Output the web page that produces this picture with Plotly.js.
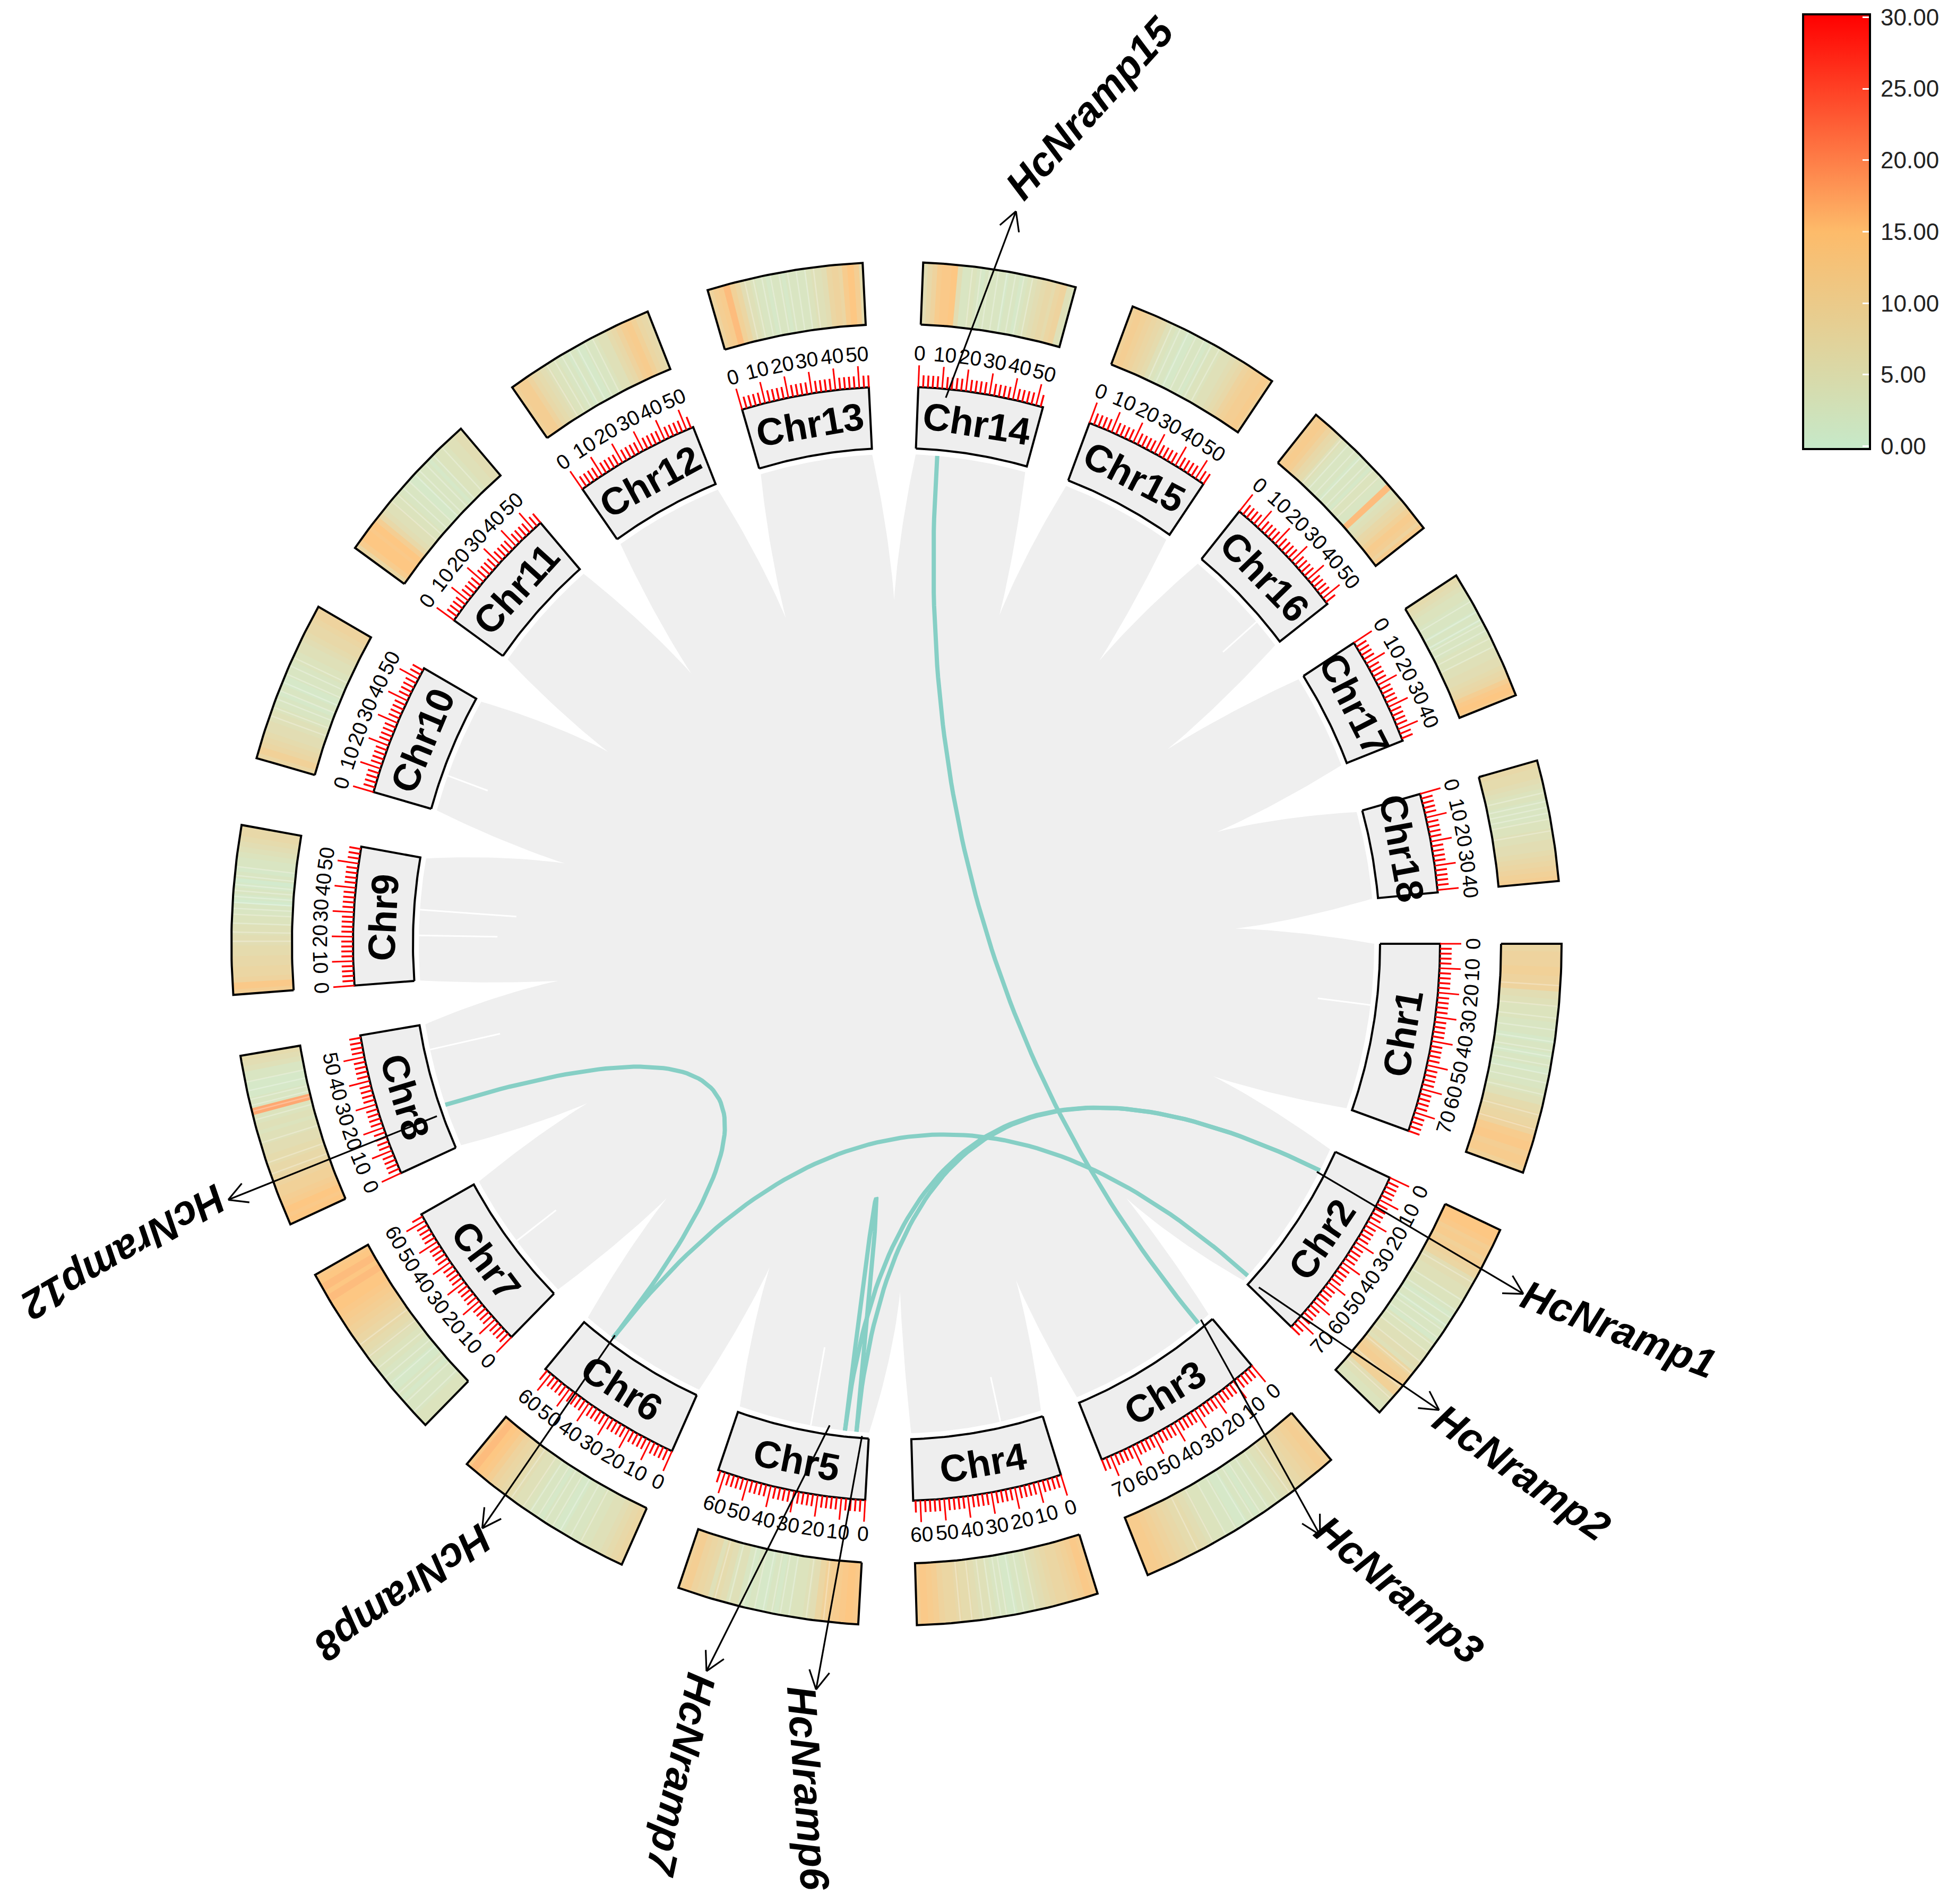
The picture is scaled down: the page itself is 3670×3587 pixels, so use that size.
<!DOCTYPE html>
<html><head><meta charset="utf-8">
<script src="https://cdn.plot.ly/plotly-3.0.1.min.js"></script>
<style>html,body{margin:0;padding:0;background:#fff}</style></head>
<body><div id="chart" style="width:3670px;height:3587px"></div>
<script>
const chrNames=["Chr1","Chr2","Chr3","Chr4","Chr5","Chr6","Chr7","Chr8","Chr9","Chr10","Chr11","Chr12","Chr13","Chr14","Chr15","Chr16","Chr17","Chr18"];
const chrLengths=[78,74,74,63,63,63,63,59,57,55,54,53,54,53,54,53,45,41];
const chrStartDeg=[0,24.82,49.2,72.4,93.3,114.4,135.1,155.7,175.7,195.8,215.5,234.7,253.5,272.3,290.8,309.1,327.3,344.4];
const gapTipRadius=[644,637,658,640,641,637,652,640,642,648,629,634,632,634,645,623,638,639];
const gapTipDeg=[22.2,47.2,70,89.4,111.9,132.8,153.3,173.9,193.3,213,232.1,250.8,269.6,287.8,306.3,325,341.2,357.5];
const density=[
[9,10,10,11,10,10,6,5,4,4,3,3,2,3,2,3,2,3,3,4,5,7,8,9,10,13,14,12,13,11],
[15,15,14,12,13,11,12,10,9,6,6,5,5,4,4,3,2,3,2,3,3,2,4,4,5,5,6,5,9,11,12,10,11,6,5,4,4],
[11,12,11,10,9,8,7,6,5,4,4,3,3,2,3,2,2,3,3,4,4,5,6,7,7,8,9,10,11,12,13,13],
[13,14,12,11,10,9,9,8,7,6,5,4,3,3,2,2,3,3,4,5,5,6,7,7,8,9,9,10,12,13,14,12],
[14,15,14,13,12,11,9,6,5,4,4,3,3,2,3,2,2,3,2,3,5,4,6,7,5,8,9,10,12,11],
[9,8,7,6,5,5,4,4,3,3,3,2,2,3,3,2,3,3,4,5,5,6,7,8,9,10,12,14,15,16,14],
[4,4,3,3,3,2,3,2,2,3,3,4,4,5,6,7,8,9,10,11,12,13,14,15,15,16,15,16,15,14],
[15,14,15,13,12,11,11,10,9,8,8,7,7,6,6,5,5,4,5,4,4,18,3,3,2,2,2,3,3,5,6,7],
[12,14,10,9,9,8,8,7,7,6,6,5,5,4,4,3,3,1,2,3,2,1,3,2,3,3,4,5,6,7,8,8],
[9,11,9,8,7,6,6,5,5,4,3,3,2,3,2,2,3,3,3,4,4,5,5,6,7,8,8,9,10,10],
[9,13,15,15,14,15,12,8,6,5,5,4,4,3,3,3,2,2,3,3,3,2,3,4,4,4,5,5,6,6],
[11,12,12,10,8,7,6,5,4,4,3,3,2,3,2,2,3,3,4,5,5,7,8,10,12,13,11,9,8,7],
[10,12,13,16,11,9,6,5,4,3,3,2,3,3,2,3,3,3,3,4,5,5,6,9,10,9,13,15,12,7],
[6,8,10,13,14,14,15,6,3,3,4,3,2,3,3,3,3,2,3,3,2,3,4,5,6,7,8,7,9,10,5,4],
[11,12,11,10,9,8,7,5,4,3,3,2,2,3,3,2,3,4,4,5,5,6,7,8,10,11,12,12,13,11],
[12,13,12,10,8,7,5,4,3,3,3,2,3,3,2,4,4,3,3,16,4,5,6,8,9,11,13,12,10,13],
[7,6,5,4,4,3,3,3,2,3,2,3,3,3,4,4,4,5,5,6,6,7,8,9,12,14,15,13],
[8,7,7,6,5,4,4,3,3,3,3,4,4,5,5,6,6,7,8,9,10,11,12]
];
const lightStreakMb=[
[14,21,25,29,33,36,38,41,44,47,51,58,63],[20,27,31,34,37,39,42,45,48,52,57,63,68],[18,23,27,30,33,36,40,44,49,55],[22,26,29,32,34,37,40,44,48],[12,18,24,27,30,33,36,40,45,50],[16,20,24,27,30,33,36,39,44],[6,10,14,18,21,25,30,35],[18,22,29,37,40,42,44,47,50],[18,21,24,27,29,31,33,35,37,40,43],[15,18,21,24,27,30,33,36],[20,23,26,29,32,34,37,41,45],[14,17,20,23,26,29,32],[13,16,19,22,25,28,31,34,37],[17,20,23,26,29,32,35,38],[15,18,21,24,27,30,33],[12,15,18,21,24,27,30],[10,14,17,18.5,21,24,27],[11,14,16,18,20,24]
];
const geneNames=["HcNramp1","HcNramp2","HcNramp3","HcNramp6","HcNramp7","HcNramp8","HcNramp12","HcNramp15"];
const geneChr=[1,1,2,4,4,5,7,13];
const geneMb=[11,71,6.4,6,11.5,47.7,20.3,10.3];
const links=[["HcNramp15","HcNramp3"],["HcNramp12","HcNramp8"],["HcNramp8","HcNramp2"],["HcNramp6","HcNramp1"],["HcNramp7","HcNramp1"],["HcNramp6","HcNramp7"]];
const arrowStartOffsetDeg=[0.3,0.1,-0.5,-0.7,1.9,0,-0.9,0.4];
const arrowStartRadius=[896,930,898,907,894,894,922,1008];
const arrowTipOffsetDeg=[1,-2.7,2.9,1.5,8.8,-0.4,-1.3,4.6];
const arrowTipRadius=[1345,1334,1348,1379,1384,1328,1344,1365];
const geneLabelRadius=[1534,1527,1519,1561,1580,1512,1562,1578];
const geneLabelDeg=[27.5,39.5,51.4,96.1,104.9,127.9,158.7,283.3];
const geneLabelAngle=[21,35,40,86,102,145,150,-48];
const slitChr=[8,8,7,0,4,3,6,15,9];
const slitMb=[33,21,47,28.6,28,20,30,39,17];
const slitTipRadius=[718,752,765,800,754,816,807,816,820];
const colorTicks=[0,5,10,15,20,25,30];

const cx=1689,cy=1778,yStretch=1.025,degPerMb=0.2515;
const rGrey=900,rIn=911,rBox=1024,rHeatIn=1139,rHeatOut=1253,rLabel=1086,rName=968;
const scale=[[0,'#c6e9c9'],[0.5,'#fdbb6a'],[1,'#ff0000']];
const P=(r,d)=>[cx+r*Math.cos(d*Math.PI/180),cy+yStretch*r*Math.sin(d*Math.PI/180)];
const starts=chrStartDeg;
const A=(c,mb)=>starts[c]+mb*degPerMb;
function pushPts(xs,ys,pts){pts.forEach(p=>{xs.push(p[0]);ys.push(p[1]);});}
function arc(r,a,b){const n=Math.max(2,Math.ceil(Math.abs(b-a)*2));const o=[];for(let i=0;i<=n;i++)o.push(P(r,a+(b-a)*i/n));return o;}
function sector(r1,r2,a,b){const o=arc(r1,a,b).concat(arc(r2,b,a));o.push(o[0]);return o;}
const traces=[];

// grey ribbon area
{const xs=[],ys=[];
 chrLengths.forEach((L,i)=>{
  const a=starts[i],b=a+L*degPerMb,nextA=i<17?starts[i+1]:360;
  pushPts(xs,ys,arc(rGrey,a,b));
  const tR=gapTipRadius[i],tD=gapTipDeg[i];
  const down=[],up=[];
  for(let k=1;k<=18;k++){const s=k/18;const f=Math.pow(1-s,1.15);
    down.push(P(rGrey-(rGrey-tR)*s,tD+(b-tD)*f));
    up.unshift(P(rGrey-(rGrey-tR)*s,tD+(nextA-tD)*f));}
  pushPts(xs,ys,down);pushPts(xs,ys,up.slice(1));
 });
 xs.push(xs[0]);ys.push(ys[0]);
 traces.push({x:xs,y:ys,mode:'lines',fill:'toself',fillcolor:'#efefef',line:{width:0},hoverinfo:'skip',showlegend:false});
}
// thin white slits
{const xs=[],ys=[];
 slitChr.forEach((c,i)=>{const d=A(c,slitMb[i]);pushPts(xs,ys,[P(rGrey,d),P(slitTipRadius[i],d)]);xs.push(null);ys.push(null);});
 traces.push({x:xs,y:ys,mode:'lines',line:{color:'#ffffff',width:3},hoverinfo:'skip',showlegend:false});
}
// links
const geneDeg=n=>{const i=geneNames.indexOf(n);return A(geneChr[i],geneMb[i]);};
links.forEach(l=>{
 const p0=P(rGrey,geneDeg(l[0])),p2=P(rGrey,geneDeg(l[1]));
 const xs=[],ys=[];
 for(let k=0;k<=80;k++){const t=k/80,u=1-t;
  xs.push(u*u*p0[0]+2*u*t*(cx+10)+t*t*p2[0]);ys.push(u*u*p0[1]+2*u*t*(cy+40)+t*t*p2[1]);}
 traces.push({x:xs,y:ys,mode:'lines',line:{color:'#86cfc5',width:8},hoverinfo:'skip',showlegend:false});
});
// chromosome boxes
{const xs=[],ys=[];
 chrLengths.forEach((L,i)=>{pushPts(xs,ys,sector(rIn,rBox,starts[i],starts[i]+L*degPerMb));xs.push(null);ys.push(null);});
 traces.push({x:xs,y:ys,mode:'lines',fill:'toself',fillcolor:'#eeeeee',line:{color:'#000',width:4},hoverinfo:'skip',showlegend:false});
}
// density strips, one trace per distinct value
{const groups={};
 density.forEach((vals,c)=>{const L=chrLengths[c],a=starts[c],w=L*degPerMb/vals.length;
  vals.forEach((v,j)=>{const g=groups[v]||(groups[v]={x:[],y:[]});
   const e=j===vals.length-1?0:0.12;
   pushPts(g.x,g.y,sector(rHeatIn,rHeatOut,a+j*w,a+(j+1)*w+e));g.x.push(null);g.y.push(null);});});
 const lerp=(a,b,t)=>a+(b-a)*t;
 const col=v=>{const t=v/30;const c0=[198,233,201],c1=[253,187,106],c2=[255,0,0];
   const [p,q,u]=t<0.5?[c0,c1,t*2]:[c1,c2,(t-0.5)*2];
   const m=x=>Math.round(lerp(x,255,0.17));
   return `rgb(${m(lerp(p[0],q[0],u))},${m(lerp(p[1],q[1],u))},${m(lerp(p[2],q[2],u))})`;};
 Object.keys(groups).forEach(v=>{traces.push({x:groups[v].x,y:groups[v].y,mode:'lines',fill:'toself',fillcolor:col(+v),line:{width:0},hoverinfo:'skip',showlegend:false});});
 const sx=[],sy=[];
 lightStreakMb.forEach((list,c)=>list.forEach(mb=>{const d=A(c,mb);pushPts(sx,sy,[P(rHeatIn,d),P(rHeatOut,d)]);sx.push(null);sy.push(null);}));
 traces.push({x:sx,y:sy,mode:'lines',line:{color:'rgba(255,255,255,0.28)',width:2.5},hoverinfo:'skip',showlegend:false});
}
// density outlines
{const xs=[],ys=[];
 chrLengths.forEach((L,i)=>{pushPts(xs,ys,sector(rHeatIn,rHeatOut,starts[i],starts[i]+L*degPerMb));xs.push(null);ys.push(null);});
 traces.push({x:xs,y:ys,mode:'lines',line:{color:'#000',width:4},hoverinfo:'skip',showlegend:false});
}
// ticks
{const mx=[],my=[],bx=[],by=[];
 chrLengths.forEach((L,c)=>{for(let mb=0;mb<=L;mb+=2){const d=A(c,mb);
   if(mb%10===0){pushPts(bx,by,[P(rBox,d),P(rBox+40,d)]);bx.push(null);by.push(null);}
   else{pushPts(mx,my,[P(rBox,d),P(rBox+22,d)]);mx.push(null);my.push(null);}}});
 traces.push({x:mx,y:my,mode:'lines',line:{color:'#ff0000',width:3.5},hoverinfo:'skip',showlegend:false});
 traces.push({x:bx,y:by,mode:'lines',line:{color:'#ff0000',width:3},hoverinfo:'skip',showlegend:false});
}
// gene arrows
{const xs=[],ys=[];
 geneNames.forEach((n,i)=>{const d=A(geneChr[i],geneMb[i]);
  const s=P(arrowStartRadius[i],d+arrowStartOffsetDeg[i]),t=P(arrowTipRadius[i],d+arrowTipOffsetDeg[i]);
  pushPts(xs,ys,[s,t]);xs.push(null);ys.push(null);
  const ang=Math.atan2(t[1]-s[1],t[0]-s[0]);
  [0.5,-0.5].forEach(o=>{pushPts(xs,ys,[t,[t[0]-40*Math.cos(ang+o),t[1]-40*Math.sin(ang+o)]]);xs.push(null);ys.push(null);});
 });
 traces.push({x:xs,y:ys,mode:'lines',line:{color:'#000',width:3.2},hoverinfo:'skip',showlegend:false});
}
// colour bar
traces.push({x:[-500,-500],y:[-500,-500],mode:'markers',hoverinfo:'skip',showlegend:false,
 marker:{size:1,color:[0,30],cmin:-0.2,cmax:30.2,colorscale:scale,showscale:true,
  colorbar:{x:3397/3670,xanchor:'left',xpad:0,ypad:0,y:1-846/3587,yanchor:'bottom',
   lenmode:'pixels',len:819,thicknessmode:'pixels',thickness:126,outlinecolor:'#000',outlinewidth:4,
   tickmode:'array',tickvals:colorTicks,ticktext:colorTicks.map(v=>'\u2009'+v.toFixed(2)),ticks:'inside',ticklen:16,tickwidth:3,tickcolor:'#ffffff',
   tickfont:{family:'Liberation Sans',size:44,color:'#222'}}}});

const ann=[];
const rot=d=>{d=((d%360)+360)%360;return d>=180?d-270:d-90;};
chrNames.forEach((n,c)=>{
 const d=A(c,chrLengths[c]/2),p=P(rName,d);
 ann.push({x:p[0],y:p[1],xref:'x',yref:'y',text:'<b>'+n+'</b>',showarrow:false,textangle:rot(d),xanchor:'center',yanchor:'middle',
  font:{family:'Liberation Sans',size:72,color:'#000'}});
 for(let mb=0;mb<=chrLengths[c];mb+=10){const dd=A(c,mb),q=P(rLabel,dd);
  ann.push({x:q[0],y:q[1],xref:'x',yref:'y',text:String(mb),showarrow:false,textangle:rot(dd),xanchor:'center',yanchor:'middle',
   font:{family:'Liberation Sans',size:39,color:'#000'}});}
});
geneNames.forEach((n,i)=>{const p=P(geneLabelRadius[i],geneLabelDeg[i]);
 ann.push({x:p[0],y:p[1],xref:'x',yref:'y',text:'<b><i>'+n+'</i></b>',showarrow:false,textangle:geneLabelAngle[i],xanchor:'center',yanchor:'middle',
  font:{family:'Liberation Sans',size:77,color:'#000'}});});

Plotly.newPlot('chart',traces,{
 width:3670,height:3587,margin:{l:0,r:0,t:0,b:0,autoexpand:false},paper_bgcolor:'#fff',plot_bgcolor:'#fff',showlegend:false,
 xaxis:{range:[0,3670],visible:false,fixedrange:true},
 yaxis:{range:[3587,0],visible:false,fixedrange:true},
 annotations:ann
},{displayModeBar:false,staticPlot:true});
</script></body></html>
